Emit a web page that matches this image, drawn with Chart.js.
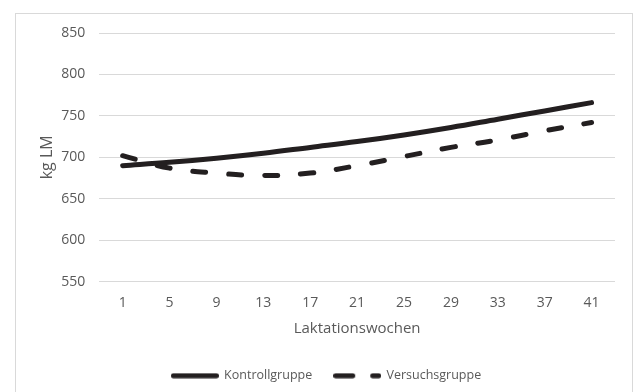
<!DOCTYPE html>
<html>
<head>
<meta charset="utf-8">
<script src="https://cdn.jsdelivr.net/npm/chart.js@4.4.1/dist/chart.umd.min.js"></script>
<style>
  html, body { margin: 0; padding: 0; background: #fff; overflow: hidden; }
  #wrap { position: relative; width: 634px; height: 392px; }
  #frame {
    position: absolute; left: 15px; top: 13px; width: 618px; height: 400px;
    box-sizing: border-box; border: 1px solid #d9d9d9; pointer-events: none;
  }
</style>
</head>
<body>
<div id="wrap">
  <canvas id="chart" width="634" height="392"></canvas>
  <div id="frame"></div>
</div>
<script>
const weeks = ['1', '5', '9', '13', '17', '21', '25', '29', '33', '37', '41'];
const kontrollgruppe = [690, 694, 699, 705, 712, 719, 727, 736, 746, 756, 766];
const versuchsgruppe = [702, 687, 681, 678, 681, 690, 701, 712, 721, 732, 742];
const yTicks = [550, 600, 650, 700, 750, 800, 850];

const lineColor = '#231f20';
const textColor = '#595959';
const fontFamily = '"Open Sans", "Noto Sans", sans-serif';

// legend swatch: chart.js closes the 'line' point path, which hides dashes
function legendLine(dash) {
  const c = document.createElement('canvas');
  c.width = 48;
  c.height = 6;
  const g = c.getContext('2d');
  g.strokeStyle = lineColor;
  g.lineWidth = 5;
  g.lineCap = 'round';
  g.setLineDash(dash);
  g.beginPath();
  g.moveTo(2.5, 3);
  g.lineTo(45.5, 3);
  g.stroke();
  return c;
}

const ctx = document.getElementById('chart').getContext('2d');
new Chart(ctx, {
  type: 'line',
  data: {
    labels: weeks,
    datasets: [
      {
        label: 'Kontrollgruppe',
        data: kontrollgruppe,
        borderColor: lineColor,
        backgroundColor: lineColor,
        borderWidth: 5,
        borderCapStyle: 'round',
        tension: 0.4,
        pointRadius: 0,
        pointStyle: legendLine([]),
        fill: false
      },
      {
        label: 'Versuchsgruppe',
        data: versuchsgruppe,
        borderColor: lineColor,
        backgroundColor: lineColor,
        borderWidth: 5,
        borderDash: [13, 23],
        borderCapStyle: 'round',
        tension: 0.4,
        pointRadius: 0,
        pointStyle: legendLine([17, 20]),
        fill: false
      }
    ]
  },
  options: {
    responsive: false,
    animation: false,
    layout: { padding: { left: 38, right: 19, top: 33, bottom: 0 } },
    scales: {
      x: {
        offset: true,
        grid: { display: false, drawTicks: false },
        border: { display: false },
        ticks: { color: textColor, padding: 13, font: { family: fontFamily, size: 14 } },
        title: {
          display: true, text: 'Laktationswochen', color: textColor,
          padding: { top: -5, bottom: 10 },
          font: { family: fontFamily, size: 15 }
        }
      },
      y: {
        min: 550,
        max: 850,
        afterBuildTicks: axis => { axis.ticks = yTicks.map(v => ({ value: v })); },
        grid: { color: '#d9d9d9', lineWidth: 1, drawTicks: false },
        border: { display: false },
        ticks: { color: textColor, padding: 14, font: { family: fontFamily, size: 14 } },
        title: {
          display: true, text: 'kg LM', color: textColor,
          padding: { top: 0, bottom: -10 },
          font: { family: fontFamily, size: 16 }
        }
      }
    },
    plugins: {
      legend: {
        position: 'bottom',
        labels: {
          usePointStyle: true,
          pointStyleWidth: 46,
          color: textColor,
          padding: 22,
          font: { family: fontFamily, size: 12.5 }
        }
      },
      tooltip: { enabled: false }
    }
  }
});
</script>
</body>
</html>
